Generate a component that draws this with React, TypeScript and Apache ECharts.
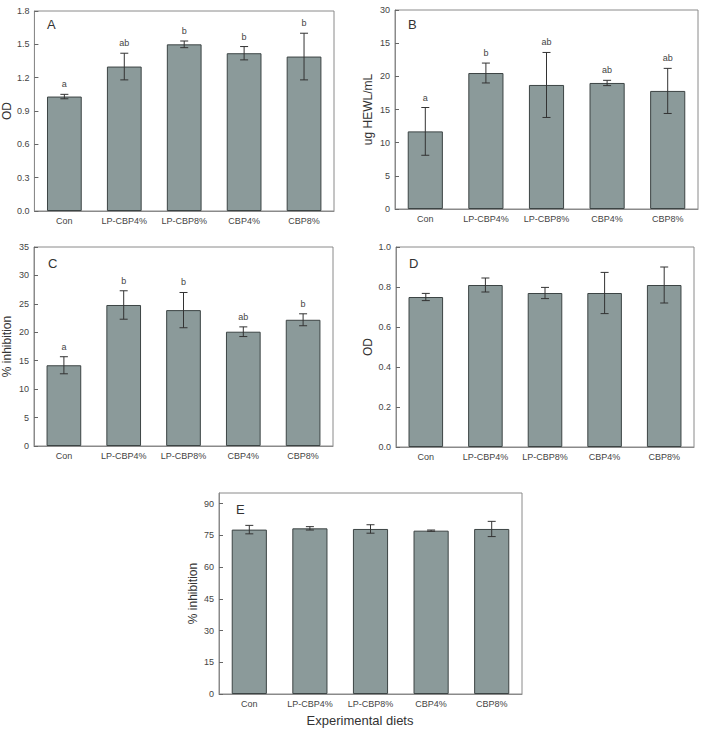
import React, { useEffect, useRef } from "react";
import * as echarts from "echarts";

// Experimental diets shared by every panel
const categories = ["Con", "LP-CBP4%", "LP-CBP8%", "CBP4%", "CBP8%"];

// Panel A: OD
const meansA = [1.03, 1.3, 1.5, 1.42, 1.39];
const errA = [0.02, 0.12, 0.03, 0.06, 0.21];
const lettersA = ["a", "ab", "b", "b", "b"];

// Panel B: ug HEWL/mL
const meansB = [11.7, 20.5, 18.7, 19.0, 17.8];
const errB = [3.6, 1.5, 4.9, 0.4, 3.4];
const lettersB = ["a", "b", "ab", "ab", "ab"];
const tickLabelsB = ["0", "5", "10", "15", "20", "15", "30"];

// Panel C: % inhibition
const meansC = [14.2, 24.8, 23.9, 20.1, 22.2];
const errC = [1.5, 2.5, 3.1, 0.85, 1.05];
const lettersC = ["a", "b", "b", "ab", "b"];

// Panel D: OD
const meansD = [0.75, 0.81, 0.77, 0.77, 0.81];
const errD = [0.018, 0.035, 0.028, 0.103, 0.09];
const lettersD: string[] = ["", "", "", "", ""];

// Panel E: % inhibition
const meansE = [77.7, 78.3, 78.0, 77.2, 78.0];
const errE = [2.0, 0.8, 2.0, 0.3, 3.6];
const lettersE: string[] = ["", "", "", "", ""];

const FONT = "'Liberation Sans', Arial, sans-serif";
const BAR_FILL = "#8b9a9a";
const BAR_EDGE = "#3c4444";
const FRAME = "#8a8a8a";
const INK = "#444";

type Panel = {
  tag: string;
  name: string;
  means: number[];
  errs: number[];
  letters: string[];
  grid: { left: number; top: number; width: number; height: number };
  yAxis: any;
  nameGap: number;
  tagPos: [number, number];
};

const panels: Panel[] = [
  {
    tag: "A",
    name: "OD",
    means: meansA,
    errs: errA,
    letters: lettersA,
    grid: { left: 32, top: 11, width: 302, height: 200 },
    yAxis: { min: 0, max: 1.8, interval: 0.3, axisLabel: { formatter: (v: number) => v.toFixed(1) } },
    nameGap: 21,
    tagPos: [47, 18],
  },
  {
    tag: "B",
    name: "ug HEWL/mL",
    means: meansB,
    errs: errB,
    letters: lettersB,
    grid: { left: 395, top: 10, width: 303, height: 199 },
    yAxis: {
      min: 0,
      max: 30,
      interval: 5,
      axisLabel: { formatter: (v: number) => tickLabelsB[Math.round(v / 5)] ?? "" },
    },
    nameGap: 21,
    tagPos: [408, 18],
  },
  {
    tag: "C",
    name: "% inhibition",
    means: meansC,
    errs: errC,
    letters: lettersC,
    grid: { left: 32, top: 247, width: 301, height: 199 },
    yAxis: { min: 0, max: 35, interval: 5 },
    nameGap: 21,
    tagPos: [48, 257],
  },
  {
    tag: "D",
    name: "OD",
    means: meansD,
    errs: errD,
    letters: lettersD,
    grid: { left: 396, top: 247, width: 298, height: 200 },
    yAxis: { min: 0, max: 1.0, interval: 0.2, axisLabel: { formatter: (v: number) => v.toFixed(1) } },
    nameGap: 22,
    tagPos: [409, 257],
  },
  {
    tag: "E",
    name: "% inhibition",
    means: meansE,
    errs: errE,
    letters: lettersE,
    grid: { left: 219, top: 493, width: 303, height: 201 },
    // scale runs a little past 90; the top end carries no label
    yAxis: { min: 0, max: 95, interval: 15, axisLabel: { showMaxLabel: false } },
    nameGap: 20,
    tagPos: [236, 503],
  },
];

function buildOption() {
  const grid: any[] = [];
  const xAxis: any[] = [];
  const yAxis: any[] = [];
  const series: any[] = [];
  const graphic: any[] = [];

  panels.forEach((p, i) => {
    grid.push({
      ...p.grid,
      show: true,
      borderColor: FRAME,
      borderWidth: 1,
      backgroundColor: "transparent",
    });
    xAxis.push({
      type: "category",
      gridIndex: i,
      data: categories,
      axisLine: { show: true, lineStyle: { color: FRAME, width: 1 } },
      axisTick: { show: true, inside: true, length: 3, alignWithLabel: true, lineStyle: { color: "#555" } },
      axisLabel: { color: INK, fontSize: 9, fontFamily: FONT, margin: 5, interval: 0 },
      splitLine: { show: false },
    });
    const y = p.yAxis;
    yAxis.push({
      type: "value",
      gridIndex: i,
      min: y.min,
      max: y.max,
      interval: y.interval,
      name: p.name,
      nameLocation: "middle",
      nameGap: p.nameGap,
      nameRotate: 90,
      nameTextStyle: { color: "#333", fontSize: 12, fontFamily: FONT },
      axisLine: { show: true, lineStyle: { color: FRAME, width: 1 } },
      axisTick: { show: true, inside: true, length: 4, lineStyle: { color: "#666" } },
      axisLabel: {
        color: INK,
        fontSize: 9,
        fontFamily: FONT,
        margin: 5,
        ...(y.axisLabel || {}),
      },
      splitLine: { show: false },
    });

    series.push({
      type: "bar",
      xAxisIndex: i,
      yAxisIndex: i,
      data: p.means,
      barWidth: "58%",
      itemStyle: { color: BAR_FILL, borderColor: BAR_EDGE, borderWidth: 1 },
      silent: true,
    });

    const means = p.means;
    const errs = p.errs;
    const letters = p.letters;
    series.push({
      type: "custom",
      xAxisIndex: i,
      yAxisIndex: i,
      z: 5,
      silent: true,
      data: means.map((m, k) => [k, m - errs[k], m + errs[k]]),
      renderItem: (params: any, api: any) => {
        const k = api.value(0);
        const lo = api.coord([k, api.value(1)]);
        const hi = api.coord([k, api.value(2)]);
        const cap = 4;
        const ls = { stroke: "#333", lineWidth: 1 };
        const children: any[] = [
          { type: "line", shape: { x1: hi[0], y1: hi[1], x2: lo[0], y2: lo[1] }, style: ls },
          { type: "line", shape: { x1: hi[0] - cap, y1: hi[1], x2: hi[0] + cap, y2: hi[1] }, style: ls },
          { type: "line", shape: { x1: lo[0] - cap, y1: lo[1], x2: lo[0] + cap, y2: lo[1] }, style: ls },
        ];
        const letter = letters[params.dataIndex];
        if (letter) {
          children.push({
            type: "text",
            x: hi[0],
            y: hi[1] - 10,
            style: {
              text: letter,
              fill: INK,
              font: `9px ${FONT}`,
              textAlign: "center",
              textVerticalAlign: "middle",
            },
          });
        }
        return { type: "group", children };
      },
    });

    graphic.push({
      type: "text",
      left: p.tagPos[0],
      top: p.tagPos[1],
      style: { text: p.tag, fill: "#333", font: `13px ${FONT}` },
    });
  });

  graphic.push({
    type: "text",
    x: 360,
    y: 714,
    style: {
      text: "Experimental diets",
      fill: "#333",
      font: `13px ${FONT}`,
      textAlign: "center",
      textVerticalAlign: "top",
    },
  });

  return {
    animation: false,
    backgroundColor: "#ffffff",
    textStyle: { fontFamily: FONT },
    grid,
    xAxis,
    yAxis,
    series,
    graphic,
  };
}

export default function App() {
  const ref = useRef<HTMLDivElement>(null);
  useEffect(() => {
    if (!ref.current) return;
    const chart = echarts.init(ref.current, undefined, { renderer: "svg" });
    chart.setOption(buildOption() as any);
    return () => chart.dispose();
  }, []);
  return (
    <div
      ref={ref}
      style={{ position: "absolute", left: 0, top: 0, width: 702, height: 729, background: "#fff" }}
    />
  );
}
